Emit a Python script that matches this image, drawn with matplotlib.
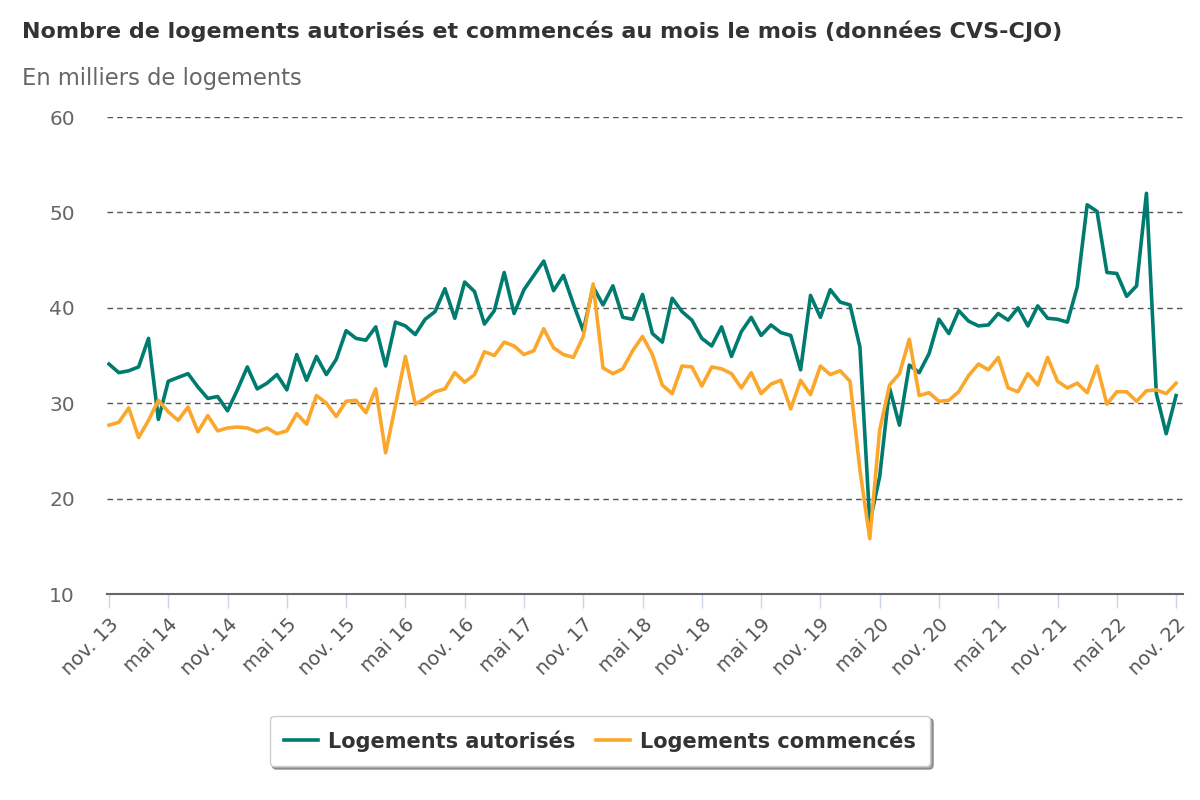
import numpy as np
import matplotlib
matplotlib.use("Agg")
import matplotlib.pyplot as plt

# Monthly data, nov. 2013 -> nov. 2022 (thousands of dwellings, CVS-CJO)
autorises = [
    34.1, 33.2, 33.4, 33.8, 36.8, 28.3, 32.3, 32.7, 33.1, 31.7, 30.5, 30.7,
    29.2, 31.4, 33.8, 31.5, 32.1, 33.0, 31.4, 35.1, 32.4, 34.9, 33.0, 34.6,
    37.6, 36.8, 36.6, 38.0, 33.9, 38.5, 38.1, 37.2, 38.8, 39.6, 42.0, 38.9,
    42.7, 41.7, 38.3, 39.7, 43.7, 39.4, 41.9, 43.4, 44.9, 41.8, 43.4, 40.4,
    37.6, 42.2, 40.3, 42.3, 39.0, 38.8, 41.4, 37.3, 36.4, 41.0, 39.6, 38.7,
    36.8, 36.0, 38.0, 34.9, 37.5, 39.0, 37.1, 38.2, 37.4, 37.1, 33.5, 41.3,
    39.0, 41.9, 40.6, 40.3, 35.9, 17.5, 22.3, 31.6, 27.7, 34.0, 33.2, 35.2,
    38.8, 37.3, 39.7, 38.6, 38.1, 38.2, 39.4, 38.7, 40.0, 38.1, 40.2, 38.9,
    38.8, 38.5, 42.2, 50.8, 50.1, 43.7, 43.6, 41.2, 42.3, 52.0, 31.0, 26.8,
    30.8,
]
commences = [
    27.7, 28.0, 29.5, 26.4, 28.2, 30.3, 29.1, 28.2, 29.6, 27.0, 28.7, 27.1,
    27.4, 27.5, 27.4, 27.0, 27.4, 26.8, 27.1, 28.9, 27.8, 30.8, 30.0, 28.6,
    30.2, 30.3, 29.0, 31.5, 24.8, 29.8, 34.9, 29.9, 30.5, 31.2, 31.5, 33.2,
    32.2, 33.0, 35.4, 35.0, 36.4, 36.0, 35.1, 35.5, 37.8, 35.8, 35.1, 34.8,
    37.0, 42.5, 33.7, 33.1, 33.6, 35.5, 37.0, 35.1, 31.9, 31.0, 33.9, 33.8,
    31.8, 33.8, 33.6, 33.1, 31.6, 33.2, 31.0, 32.0, 32.4, 29.4, 32.4, 30.9,
    33.9, 33.0, 33.4, 32.3, 23.0, 15.8, 27.2, 31.9, 33.1, 36.7, 30.8, 31.1,
    30.2, 30.3, 31.2, 32.9, 34.1, 33.5, 34.8, 31.6, 31.2, 33.1, 31.9, 34.8,
    32.3, 31.6, 32.1, 31.1, 33.9, 29.9, 31.2, 31.2, 30.2, 31.3, 31.4, 31.0,
    32.1,
]
tick_labels = ["nov. 13", "mai 14", "nov. 14", "mai 15", "nov. 15", "mai 16",
               "nov. 16", "mai 17", "nov. 17", "mai 18", "nov. 18", "mai 19",
               "nov. 19", "mai 20", "nov. 20", "mai 21", "nov. 21", "mai 22",
               "nov. 22"]
y_ticks = [10, 20, 30, 40, 50, 60]

plt.rcParams['font.family'] = ['DejaVu Sans']

fig = plt.figure(figsize=(12, 8), dpi=100)
ax = fig.add_axes([107 / 1200, 1 - 594 / 800, 1076 / 1200, 477 / 800])

x = np.arange(len(autorises))
ax.plot(x, autorises, color='#007b70', lw=2.6, label='Logements autorisés',
        solid_joinstyle='round', zorder=3)
ax.plot(x, commences, color='#fba72c', lw=2.6, label='Logements commencés',
        solid_joinstyle='round', zorder=3)

ax.set_xlim(-0.2, 108.7)
ax.set_ylim(10, 60)

for v in y_ticks[1:]:
    ax.axhline(v, color='#555555', lw=1.0, ls=(0, (4, 3)), zorder=1)

for s in ['top', 'right', 'left']:
    ax.spines[s].set_visible(False)
ax.spines['bottom'].set_color('#666666')
ax.spines['bottom'].set_linewidth(1.5)

ax.set_yticks(y_ticks)
ax.set_yticklabels([str(v) for v in y_ticks], fontsize=14.5, color='#666666')
ax.tick_params(axis='y', length=0, pad=23)

ax.set_xticks(np.arange(0, len(autorises), 6))
ax.set_xticklabels(tick_labels, rotation=45, ha='right',
                   rotation_mode='anchor', fontsize=14, color='#555555')
ax.tick_params(axis='x', length=10, width=1, color='#ccd6eb', pad=5)

fig.text(22 / 1200, 1 - 31 / 800,
         "Nombre de logements autorisés et commencés au mois le mois (données CVS-CJO)",
         fontsize=16, fontweight='bold', color='#333333', va='center')
fig.text(22 / 1200, 1 - 78 / 800, "En milliers de logements",
         fontsize=16.3, color='#666666', va='center')

leg = fig.legend(loc='center', bbox_to_anchor=(0.5, 1 - 741 / 800),
                 ncol=2, frameon=True, fancybox=True, shadow=True,
                 prop={'weight': 'bold', 'size': 15}, handlelength=1.6,
                 columnspacing=1.0, borderpad=0.7, handletextpad=0.5)
leg.get_frame().set_edgecolor('#cccccc')
for t in leg.get_texts():
    t.set_color('#333333')

fig.savefig('out.png', dpi=100)
